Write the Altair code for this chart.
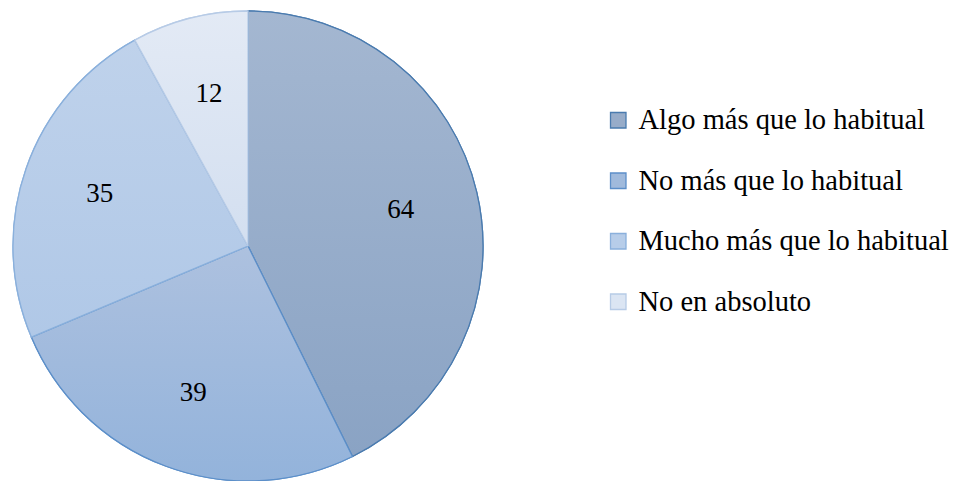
import altair as alt
import pandas as pd

categories = ["Algo más que lo habitual", "No más que lo habitual",
              "Mucho más que lo habitual", "No en absoluto"]
values = [64, 39, 35, 12]
fills = ["#97ACC9", "#A0BADC", "#B7CDE9", "#DBE5F3"]
grad_top = ["#A4B7D1", "#ADC1DF", "#BFD2EB", "#E3EAF5"]
grad_bot = ["#8AA3C4", "#93B3DB", "#B0C8E7", "#D3DFF0"]
strokes = ["#4A7BAF", "#5C8FC9", "#8AB0DC", "#B7CBE6"]

FONT = "Liberation Serif"

df = pd.DataFrame({"cat": categories, "value": values, "idx": list(range(len(values)))})


def grad(top, bot):
    return {"gradient": "linear", "x1": 0, "y1": 0, "x2": 0, "y2": 1,
            "stops": [{"offset": 0, "color": top}, {"offset": 1, "color": bot}]}


conds = [{"test": "datum.cat === '%s'" % c, "value": grad(t, b)}
         for c, t, b in zip(categories[:-1], grad_top[:-1], grad_bot[:-1])]
grad_fill = {"condition": conds, "value": grad(grad_top[-1], grad_bot[-1])}

base = alt.Chart(df).encode(
    theta=alt.Theta("value:Q", stack=True),
    order=alt.Order("idx:Q"),
)

leg = dict(title=None, orient="none", legendX=596, legendY=97, padding=0,
           labelFont=FONT, labelFontSize=28.5, labelColor="#000000",
           symbolType="square", symbolSize=240, symbolStrokeWidth=1.3,
           rowPadding=31.5, labelOffset=6, labelLimit=600)

stroke_enc = alt.Stroke("cat:N", scale=alt.Scale(domain=categories, range=strokes),
                        legend=alt.Legend(**leg))

pie_flat = base.mark_arc(outerRadius=235, strokeWidth=1.3).encode(
    fill=alt.Fill("cat:N", scale=alt.Scale(domain=categories, range=fills),
                  legend=alt.Legend(**leg)),
    stroke=stroke_enc,
)

pie_grad = base.mark_arc(outerRadius=235, strokeWidth=1.3).encode(
    fill=grad_fill,
    stroke=stroke_enc,
)

labels = base.mark_text(radius=157, font=FONT, fontSize=27, color="#000000").encode(
    text=alt.Text("value:Q")
)

chart = alt.layer(pie_flat, pie_grad, labels).properties(
    width=480, height=474, padding=0
).configure_view(stroke=None)

chart.save("out.html", embed_options={"renderer": "svg", "actions": False})
